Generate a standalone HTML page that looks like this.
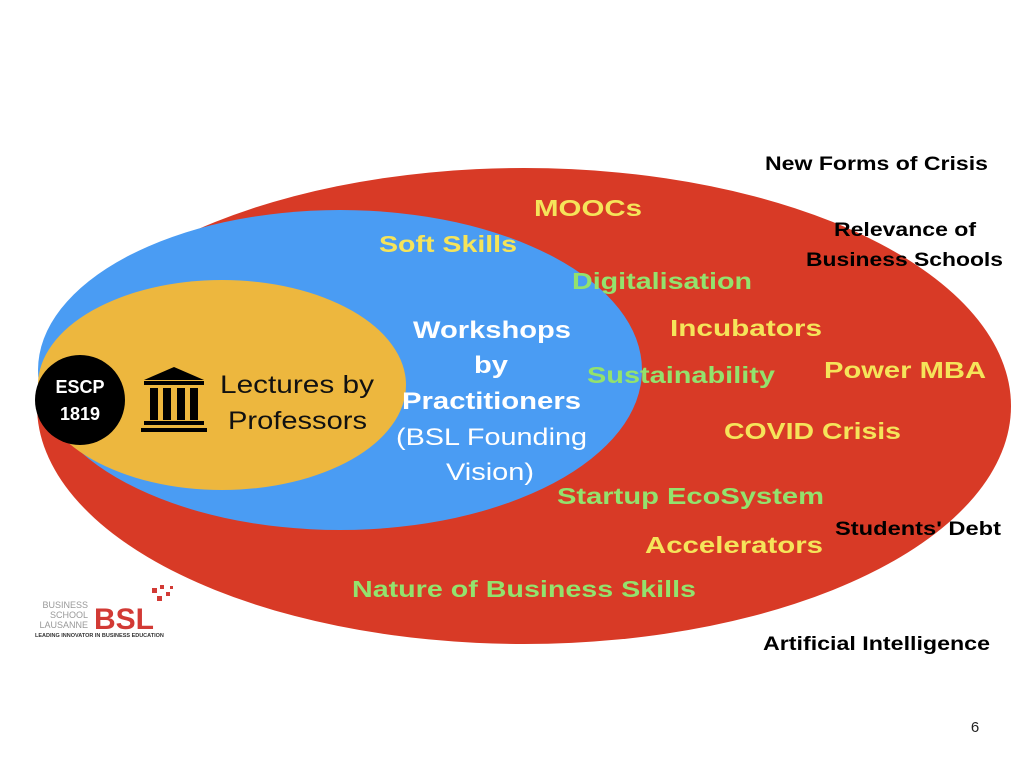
<!DOCTYPE html>
<html><head><meta charset="utf-8"><style>
html,body{margin:0;padding:0;background:#fff;}
svg{display:block;}
text{font-family:"Liberation Sans",sans-serif;}
</style></head><body>
<svg width="1024" height="768" viewBox="0 0 1024 768">
<ellipse cx="524" cy="406" rx="487" ry="238" fill="#d83a26"/>
<ellipse cx="340" cy="370" rx="302" ry="160" fill="#4a9cf3"/>
<ellipse cx="222" cy="385" rx="184" ry="105" fill="#edb73e"/>
<circle cx="80" cy="400" r="45" fill="#000"/>
<text x="80" y="393" font-size="18" font-weight="bold" fill="#fff" text-anchor="middle">ESCP</text>
<text x="80" y="420" font-size="18" font-weight="bold" fill="#fff" text-anchor="middle">1819</text>
<g fill="#000">
<polygon points="174,367 144,380 204,380"/>
<rect x="144" y="381" width="60" height="4"/>
<rect x="150" y="388" width="8" height="32"/>
<rect x="163" y="388" width="8" height="32"/>
<rect x="177" y="388" width="8" height="32"/>
<rect x="190" y="388" width="8" height="32"/>
<rect x="144" y="421" width="60" height="4"/>
<rect x="141" y="428" width="66" height="4"/>
</g>
<g font-size="25" fill="#111">
<text x="220" y="393" textLength="154" lengthAdjust="spacingAndGlyphs">Lectures by</text>
<text x="228" y="429" textLength="139" lengthAdjust="spacingAndGlyphs">Professors</text>
</g>
<g font-size="24" fill="#fff">
<text x="413" y="338" font-weight="bold" textLength="158" lengthAdjust="spacingAndGlyphs">Workshops</text>
<text x="474" y="373" font-weight="bold" textLength="34" lengthAdjust="spacingAndGlyphs">by</text>
<text x="402" y="409" font-weight="bold" textLength="179" lengthAdjust="spacingAndGlyphs">Practitioners</text>
<text x="396" y="445" textLength="191" lengthAdjust="spacingAndGlyphs">(BSL Founding</text>
<text x="446" y="480" textLength="88" lengthAdjust="spacingAndGlyphs">Vision)</text>
</g>
<g font-size="23" font-weight="bold" lengthAdjust="spacingAndGlyphs">
<text x="534" y="216" fill="#f5e45a" textLength="108" lengthAdjust="spacingAndGlyphs">MOOCs</text>
<text x="379" y="252" fill="#f5e45a" textLength="138" lengthAdjust="spacingAndGlyphs">Soft Skills</text>
<text x="572" y="289" fill="#93e26d" textLength="180" lengthAdjust="spacingAndGlyphs">Digitalisation</text>
<text x="670" y="336" fill="#f5e45a" textLength="152" lengthAdjust="spacingAndGlyphs">Incubators</text>
<text x="587" y="383" fill="#93e26d" textLength="188" lengthAdjust="spacingAndGlyphs">Sustainability</text>
<text x="824" y="378" fill="#f5e45a" textLength="162" lengthAdjust="spacingAndGlyphs">Power MBA</text>
<text x="724" y="439" fill="#f5e45a" textLength="177" lengthAdjust="spacingAndGlyphs">COVID Crisis</text>
<text x="557" y="504" fill="#93e26d" textLength="267" lengthAdjust="spacingAndGlyphs">Startup EcoSystem</text>
<text x="645" y="553" fill="#f5e45a" textLength="178" lengthAdjust="spacingAndGlyphs">Accelerators</text>
<text x="352" y="597" fill="#93e26d" textLength="344" lengthAdjust="spacingAndGlyphs">Nature of Business Skills</text>
</g>
<g font-size="19" font-weight="bold" fill="#000">
<text x="765" y="170" textLength="223" lengthAdjust="spacingAndGlyphs">New Forms of Crisis</text>
<text x="834" y="236" textLength="142" lengthAdjust="spacingAndGlyphs">Relevance of</text>
<text x="806" y="266" textLength="197" lengthAdjust="spacingAndGlyphs">Business Schools</text>
<text x="835" y="535" textLength="166" lengthAdjust="spacingAndGlyphs">Students' Debt</text>
<text x="763" y="650" textLength="227" lengthAdjust="spacingAndGlyphs">Artificial Intelligence</text>
</g>
<text x="975" y="732" font-size="15" fill="#222" text-anchor="middle">6</text>
<g font-size="9" fill="#999" text-anchor="end">
<text x="88" y="608">BUSINESS</text>
<text x="88" y="618">SCHOOL</text>
<text x="88" y="628">LAUSANNE</text>
</g>
<text x="94" y="629" font-size="30" font-weight="bold" fill="#d23a35">BSL</text>
<g fill="#d23a35"><rect x="152" y="588" width="5" height="5"/><rect x="160" y="585" width="4" height="4"/><rect x="166" y="592" width="4" height="4"/><rect x="157" y="596" width="5" height="5"/><rect x="170" y="586" width="3" height="3"/></g>
<text x="35" y="637" font-size="5.5" font-weight="bold" fill="#333">LEADING INNOVATOR IN BUSINESS EDUCATION</text>
</svg>
</body></html>
